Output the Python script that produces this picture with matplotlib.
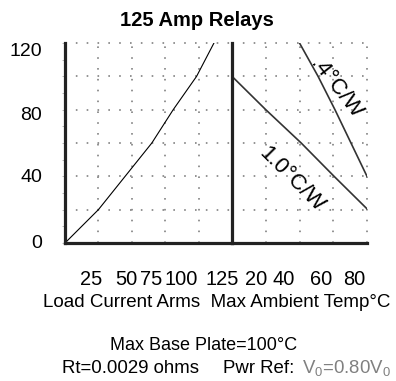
import numpy as np
import matplotlib
matplotlib.use("Agg")
import matplotlib.pyplot as plt

plt.rcParams['font.family'] = ['Liberation Sans', 'DejaVu Sans']
plt.rcParams['mathtext.default'] = 'regular'

# --- data ---
current_a = [0, 25, 45, 65, 81, 98.5, 111.5]
current_rise = [0, 20, 40, 60, 80, 100, 120]

amb_10_temp = [0, 20, 41, 60.5, 80]
amb_10_val = [100, 80, 60, 40, 20.5]
amb_04_temp = [40, 51, 61, 70.5, 80]
amb_04_val = [120, 100, 80, 60, 40]

y_labels = ["0", "40", "80", "120"]
x_labels = ["25", "50", "75", "100", "125", "20", "40", "60", "80"]

# --- layout (pixel coords of the 396x381 canvas) ---
W, H = 396, 381
def fx(px):
    return px / W
def fy(py):
    return 1 - py / H

x_left, x_mid, x_right = 65, 232, 367
y_bot, y_top = 243, 43

fig = plt.figure(figsize=(W / 100, H / 100), dpi=100)
ax1 = fig.add_axes([fx(x_left), fy(y_bot), fx(x_mid) - fx(x_left), fy(y_top) - fy(y_bot)])
ax2 = fig.add_axes([fx(x_mid), fy(y_bot), fx(x_right) - fx(x_mid), fy(y_top) - fy(y_bot)])
ax1.set_xlim(0, 125)
ax2.set_xlim(0, 80)

grid_kw = dict(color="#8a8a8a", lw=1.3, dashes=(0.9, 5.1), zorder=0, clip_on=False)
for ax, xs in ((ax1, [25, 50, 75, 100]), (ax2, [20, 40, 60, 80])):
    ax.set_ylim(0, 120)
    for v in range(20, 121, 20):
        ax.axhline(v, **grid_kw)
    for v in xs:
        ax.axvline(v, **grid_kw)
    ax.spines[['top', 'right']].set_visible(False)
    ax.spines['left'].set_linewidth(2.3)
    ax.spines['bottom'].set_linewidth(2.3)
    ax.spines['left'].set_color("#222222")
    ax.spines['bottom'].set_color("#222222")
    ax.set_xticks([])
    ax.set_yticks(range(0, 121, 10))
    ax.set_yticklabels([])
    ax.tick_params(axis='y', length=2, color="#aaaaaa", width=0.6)
    ax.patch.set_alpha(0)
ax2.tick_params(axis='y', length=0)

ax1.plot(current_a, current_rise, color="black", lw=0.8)
ax2.plot(amb_10_temp, amb_10_val, color="#333333", lw=1.2)
ax2.plot(amb_04_temp, amb_04_val, color="#333333", lw=1.2)

fig.text(fx(292), fy(180), "1.0\u00b0C/W", fontsize=16, rotation=-45,
         ha="center", va="center", rotation_mode="anchor")
fig.text(fx(336), fy(88), ".4\u00b0C/W", fontsize=16, rotation=-52,
         ha="center", va="center", rotation_mode="anchor")

# title and tick texts
fig.text(fx(197), fy(20), "125 Amp Relays", fontsize=14.5, fontweight="bold",
         ha="center", va="center")
y_label_pos = [243, 178, 115, 52]
for lab, py in zip(y_labels, y_label_pos):
    fig.text(fx(42), fy(py), lab, fontsize=14, ha="right", va="center")
x_label_pos = [91, 126, 151, 181, 222, 256, 284, 321, 354]
for lab, px in zip(x_labels, x_label_pos):
    fig.text(fx(px), fy(285), lab, fontsize=14.4, ha="center", va="baseline")

fig.text(fx(43), fy(307), "Load Current Arms  Max Ambient Temp\u00b0C",
         fontsize=13.5, ha="left", va="baseline")
fig.text(fx(110), fy(350), "Max Base Plate=100\u00b0C", fontsize=13, ha="left", va="baseline")
fig.text(fx(62), fy(373), "Rt=0.0029 ohms", fontsize=13.4, ha="left", va="baseline")
fig.text(fx(294), fy(373), "Pwr Ref:", fontsize=13.4, ha="right", va="baseline")
fig.text(fx(302), fy(373), "V$_0$=0.80V$_0$", fontsize=13.4, color="#808080",
         ha="left", va="baseline")

fig.savefig("out.png", dpi=100)
